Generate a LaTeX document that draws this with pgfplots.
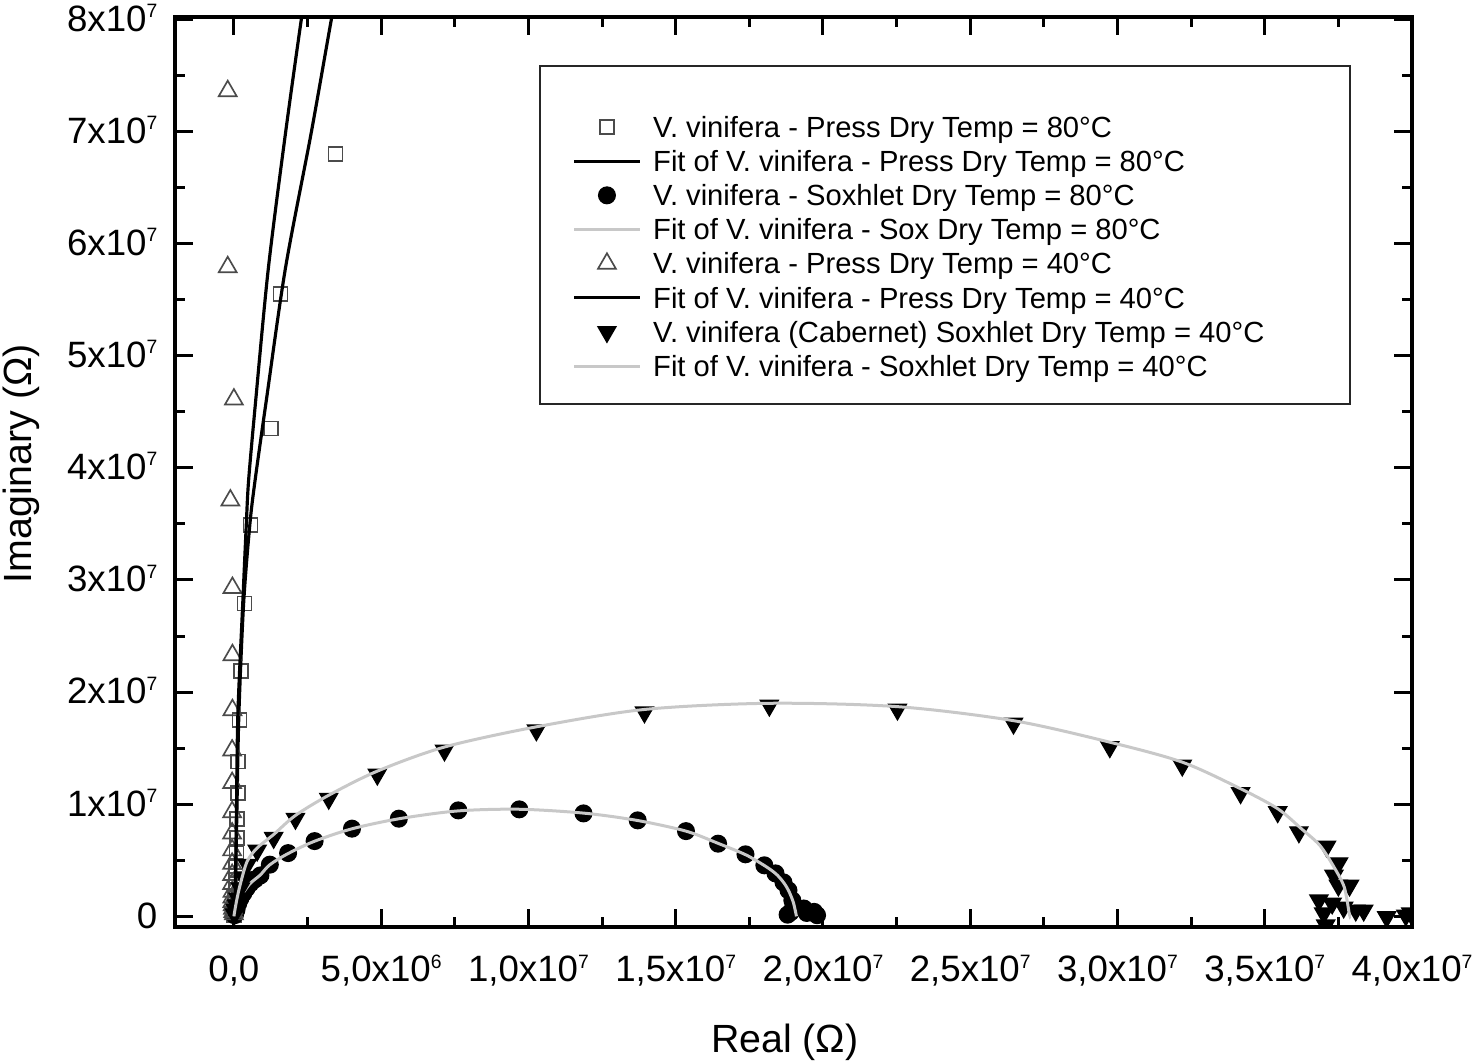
\documentclass[border=0pt]{standalone}
\usepackage{fontspec}
\setmainfont{Liberation Sans}
\usepackage{pgfplots}
\pgfplotsset{compat=1.18}
\definecolor{fitgray}{RGB}{200,200,200}
\definecolor{markgray}{RGB}{75,75,75}
\newcommand\sups[1]{\raisebox{4.1pt}{\fontsize{5.8}{6}\selectfont #1}}
\begin{document}
\begin{tikzpicture}
\begin{axis}[
  scale only axis, width=371.1pt, height=273pt,
  xmin=-2e6, xmax=4e7, ymin=-9.5e5, ymax=8.02e7,
  axis line style={line width=1pt},
  every tick/.style={black, line width=0.9pt},
  major tick length=5.5pt, minor tick length=3pt,
  scaled ticks=false,
  xtick={0,5e6,1e7,1.5e7,2e7,2.5e7,3e7,3.5e7,4e7},
  xticklabels={{0,0},{5,0x10\sups{6}},{1,0x10\sups{7}},{1,5x10\sups{7}},{2,0x10\sups{7}},{2,5x10\sups{7}},{3,0x10\sups{7}},{3,5x10\sups{7}},{4,0x10\sups{7}}},
  ytick={0,1e7,2e7,3e7,4e7,5e7,6e7,7e7,8e7},
  yticklabels={0,{1x10\sups{7}},{2x10\sups{7}},{3x10\sups{7}},{4x10\sups{7}},{5x10\sups{7}},{6x10\sups{7}},{7x10\sups{7}},{8x10\sups{7}}},
  minor x tick num=1, minor y tick num=1,
  tick label style={font=\fontsize{11}{12}\selectfont},
  xticklabel style={anchor=north, inner sep=0pt, text height=7.9pt, text depth=0pt, yshift=-8.3pt},
  yticklabel style={anchor=east, inner sep=0pt, text height=7.9pt, text depth=0pt, xshift=-5.1pt, yshift=0.4pt},
  xlabel={Real (Ω)}, ylabel={Imaginary (Ω)},
  every axis x label/.style={at={(axis description cs:0.493,-0.1374)}, anchor=base, font=\fontsize{11.8}{13}\selectfont},
  every axis y label/.style={at={(axis description cs:-0.1156,0.509)}, anchor=base, rotate=90, font=\fontsize{11.8}{13}\selectfont},
  clip marker paths=true,
  legend style={at={(rel axis cs:0.3215,0.8978)}, anchor=north west, draw=none, fill=none,
    inner sep=0pt, outer sep=0pt, row sep=0pt, column sep=3.6pt,
    font=\fontsize{8.75}{10}\selectfont,
    nodes={inner sep=0pt, text height=8.2pt, text depth=2.04pt}},
  legend cell align=left,
  legend image code/.code={\path[draw=none,fill=none] (0pt,-1pt) rectangle (19.6pt,1pt); \draw[#1] plot coordinates {(0pt,0pt)(19.6pt,0pt)};},
  legmark/.style={only marks, legend image code/.code={\path[draw=none,fill=none] (0pt,-1pt) rectangle (19.6pt,1pt); \draw[##1] plot coordinates {(9.8pt,0pt)};}},
]
% V. vinifera - Press Dry 80 (open squares)
\addplot[legmark, mark=square, mark size=2.1pt, mark options={draw=markgray, line width=0.5pt}] coordinates {
(3.45e6,6.80e7)(1.58e6,5.55e7)(1.26e6,4.35e7)(5.6e5,3.49e7)(3.6e5,2.79e7)(2.5e5,2.19e7)
(1.9e5,1.75e7)(1.4e5,1.38e7)(1.3e5,1.10e7)(1.1e5,8.7e6)(1.0e5,7.0e6)(9e4,5.6e6)(8e4,4.5e6)
(7e4,3.6e6)(6e4,2.9e6)(5e4,2.3e6)(4e4,1.8e6)(3e4,1.4e6)(2e4,1.1e6)(1e4,8e5)(0,5e5)(0,3e5)(0,1e5)};
\addlegendentry{V. vinifera - Press Dry Temp = 80°C}
% Fit Press 80
\addplot[black, line width=0.95pt, smooth] coordinates {
(4e4,0)(1.0e5,9.18e6)(1.7e5,1.81e7)(3.3e5,2.79e7)(5.4e5,3.49e7)(7.2e5,3.89e7)(1.1e6,4.6e7)
(1.75e6,5.78e7)(2.62e6,6.98e7)(3.31e6,8.0e7)(3.5e6,8.25e7)};
\addlegendentry{Fit of V. vinifera - Press Dry Temp = 80°C}
% Soxhlet 80 (filled circles)
\addplot[legmark, mark=*, mark size=2.5pt, mark options={draw=black, fill=black}] coordinates {
(2e4,1e5)(5e4,3e5)(9e4,6e5)(1.5e5,1.16e6)(2.2e5,1.6e6)(3.2e5,2.05e6)(4.3e5,2.5e6)(5.6e5,2.94e6)
(7.2e5,3.3e6)(9.0e5,3.65e6)(1.22e6,4.61e6)(1.84e6,5.64e6)(2.74e6,6.71e6)(4.01e6,7.82e6)
(5.60e6,8.71e6)(7.62e6,9.45e6)(9.69e6,9.54e6)(1.187e7,9.18e6)(1.371e7,8.56e6)(1.535e7,7.60e6)
(1.644e7,6.48e6)(1.737e7,5.53e6)(1.801e7,4.55e6)(1.839e7,3.83e6)(1.866e7,3.03e6)(1.883e7,2.32e6)
(1.896e7,1.43e6)(1.90e7,9e5)(1.89e7,3.6e5)(1.88e7,1.5e5)(1.935e7,7e5)(1.945e7,3e5)(1.97e7,4e5)(1.98e7,1e5)};
\addlegendentry{V. vinifera - Soxhlet Dry Temp = 80°C}
% Fit Sox 80
\addplot[fitgray, line width=0.9pt, smooth] coordinates {
(0,0)(5e4,3e5)(1.5e5,1.2e6)(3.2e5,2.1e6)(5.6e5,2.95e6)(9e5,3.7e6)(1.22e6,4.6e6)(1.84e6,5.6e6)
(2.74e6,6.7e6)(4.0e6,7.8e6)(5.6e6,8.7e6)(7.6e6,9.4e6)(9.7e6,9.55e6)(1.19e7,9.2e6)(1.37e7,8.55e6)
(1.535e7,7.6e6)(1.645e7,6.5e6)(1.737e7,5.5e6)(1.80e7,4.55e6)(1.84e7,3.8e6)(1.867e7,3.0e6)
(1.885e7,2.2e6)(1.90e7,1.2e6)(1.91e7,0)};
\addlegendentry{Fit of V. vinifera - Sox Dry Temp = 80°C}
% Press Dry 40 (open triangles)
\addplot[legmark, mark=triangle, mark size=3.1pt, mark options={draw=markgray, line width=0.5pt}] coordinates {
(-2.1e5,7.36e7)(-2.1e5,5.79e7)(0,4.61e7)(-1.2e5,3.71e7)(-5e4,2.93e7)(-5e4,2.33e7)(-5e4,1.84e7)
(-6e4,1.48e7)(-6e4,1.19e7)(-6e4,9.3e6)(-6e4,7.4e6)(-6e4,5.9e6)(-6e4,4.7e6)(-6e4,3.7e6)(-6e4,2.9e6)
(-5e4,2.2e6)(-5e4,1.7e6)(-5e4,1.3e6)(-4e4,1.0e6)(-3e4,7e5)(-2e4,4e5)(0,2e5)};
\addlegendentry{V. vinifera - Press Dry Temp = 40°C}
% Fit Press 40
\addplot[black, line width=0.95pt, smooth] coordinates {
(4e4,0)(8.5e4,9.18e6)(1.36e5,1.81e7)(3.0e5,2.79e7)(4.2e5,3.49e7)(5.0e5,3.89e7)(7.4e5,4.6e7)
(1.17e6,5.78e7)(1.75e6,6.98e7)(2.29e6,8.0e7)(2.45e6,8.25e7)};
\addlegendentry{Fit of V. vinifera - Press Dry Temp = 40°C}
% Soxhlet 40 (filled down triangles)
\addplot[legmark, mark=triangle*, mark size=3.1pt, mark options={rotate=180, draw=black, fill=black}] coordinates {
(2e4,2e5)(5e4,6e5)(9e4,1.0e6)(1.4e5,1.6e6)(2.2e5,2.5e6)(3.2e5,3.5e6)(4.5e5,4.6e6)(7.9e5,5.88e6)
(1.35e6,7.01e6)(2.09e6,8.71e6)(3.22e6,1.05e7)(4.87e6,1.265e7)(7.15e6,1.48e7)(1.027e7,1.66e7)
(1.394e7,1.82e7)(1.818e7,1.88e7)(2.253e7,1.845e7)(2.647e7,1.72e7)(2.974e7,1.51e7)(3.22e7,1.346e7)
(3.418e7,1.10e7)(3.544e7,9.30e6)(3.616e7,7.51e6)(3.71e7,6.24e6)(3.751e7,4.75e6)(3.735e7,3.65e6)
(3.75e7,2.76e6)(3.788e7,2.76e6)(3.684e7,1.43e6)(3.729e7,1.16e6)(3.70e7,2.7e5)(3.768e7,8.0e5)
(3.809e7,5.3e5)(3.836e7,5.3e5)(3.914e7,-6e4)(3.979e7,9e4)(3.996e7,2.7e5)(3.707e7,-8e5)(3.62e7,-1.25e6)};
\addlegendentry{V. vinifera (Cabernet) Soxhlet Dry Temp = 40°C}
% Fit Sox 40
\addplot[fitgray, line width=0.9pt, smooth] coordinates {
(0,0)(3e4,5e5)(1e5,1.5e6)(2.2e5,2.9e6)(4.5e5,4.9e6)(7.9e5,6.1e6)(1.35e6,7.3e6)(2.09e6,9.0e6)
(3.22e6,1.08e7)(4.87e6,1.295e7)(7.15e6,1.51e7)(1.027e7,1.69e7)(1.394e7,1.845e7)(1.818e7,1.90e7)
(2.253e7,1.87e7)(2.647e7,1.745e7)(2.974e7,1.553e7)(3.22e7,1.375e7)(3.418e7,1.138e7)(3.544e7,9.6e6)
(3.625e7,7.8e6)(3.687e7,6.33e6)(3.735e7,4.4e6)(3.77e7,2.6e6)(3.787e7,2.4e5)(3.79e7,0)};
\addlegendentry{Fit of V. vinifera - Soxhlet Dry Temp = 40°C}
\draw[line width=0.6pt, black!85] (rel axis cs:0.2951,0.575) rectangle (rel axis cs:0.950,0.946);
\end{axis}
\pgfresetboundingbox
\path (-52.5pt,-40.2pt) rectangle (391.2pt,278.1pt);
\end{tikzpicture}
\end{document}
